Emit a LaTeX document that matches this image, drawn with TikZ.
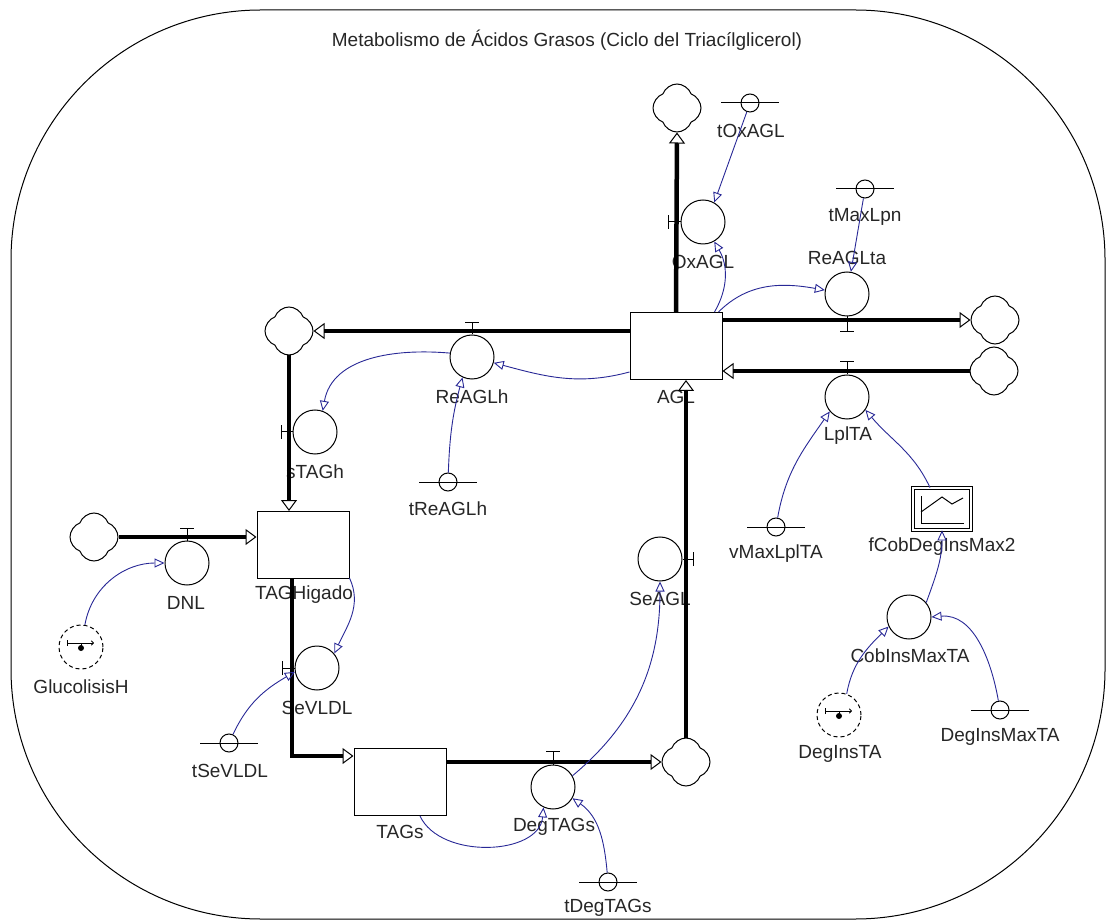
\documentclass[tikz,border=0pt]{standalone}
\usepackage{fontspec}
\setmainfont{Liberation Sans}
\usetikzlibrary{arrows.meta,shapes.symbols}
\definecolor{infoblue}{RGB}{40,40,150}
\tikzset{
  stock/.style={draw, rectangle, line width=1pt, minimum width=92pt, minimum height=67pt, inner sep=0pt},
  valve/.style={draw, circle, line width=1pt, minimum size=44pt, inner sep=0pt},
  cloudy/.style={draw, cloud, cloud puffs=4, cloud puff arc=140, shape border rotate=45, aspect=1, line width=1pt, minimum width=48pt, minimum height=48pt, inner sep=0pt},
  cnst/.style={draw, circle, line width=1pt, minimum size=18pt, inner sep=0pt},
  inputvar/.style={draw, circle, line width=1pt, dash pattern=on 4pt off 3pt, minimum size=44pt, inner sep=0pt},
  lookupbox/.style={draw, rectangle, double, double distance=1.6pt, line width=0.8pt, minimum width=58pt, minimum height=42pt, inner sep=0pt},
  lbl/.style={font=\fontsize{19}{22}\selectfont, text=black!85, inner sep=0pt},
  pipe/.style={line width=4.5pt, -{Triangle[open, length=11pt, width=16pt, line width=1pt]}},
  info/.style={draw=infoblue, line width=0.9pt, -{Triangle[open, length=10pt, width=9pt, line width=0.9pt]}}
}
\newcommand{\insym}[1]{%
  \draw[line width=1pt, -{To[length=3pt, width=5pt]}] ([shift={(-14,4)}]#1.center) -- ([shift={(13,4)}]#1.center);
  \draw[line width=1pt] ([shift={(-14,1)}]#1.center) -- ([shift={(-14,7)}]#1.center);
  \draw[line width=1pt] ([shift={(0,4)}]#1.center) -- ([shift={(0,-1)}]#1.center);
  \fill ([shift={(0,-1)}]#1.center) circle (3);}

\begin{document}
\begin{tikzpicture}[x=1pt, y=1pt]
\useasboundingbox (0,0) rectangle (1110,922);
\draw[line width=1pt, rounded corners=250pt] (11,3) rectangle (1105,912);
\node[lbl] (title) at (567,882) {Metabolismo de Ácidos Grasos (Ciclo del Triacílglicerol)};

% stocks
\node[stock] (AGL) at (676,576) {};
\node[stock] (TAGHigado) at (303,377) {};
\node[stock] (TAGs) at (400,140) {};
\node[lbl] (lAGL) at (676,525) {AGL};
\node[lbl] (lTAGHigado) at (304,327) {TAGHigado};
\node[lbl] (lTAGs) at (400,90) {TAGs};

% clouds
\node[cloudy] (cOx) at (677,814) {};
\node[cloudy] (cReh) at (289,591) {};
\node[cloudy] (cRta) at (995,602) {};
\node[cloudy] (cLpl) at (994,551) {};
\node[cloudy] (cDNL) at (94,385) {};
\node[cloudy] (cDeg) at (686,160) {};

% valves
\node[valve] (OxAGL) at (703,700) {};
\node[valve] (ReAGLta) at (847,628) {};
\node[valve] (LplTA) at (847,525) {};
\node[valve] (ReAGLh) at (472,565) {};
\node[valve] (sTAGh) at (315,490) {};
\node[valve] (DNL) at (187,359) {};
\node[valve] (SeVLDL) at (317,254) {};
\node[valve] (DegTAGs) at (553,135) {};
\node[valve] (SeAGL) at (660,363) {};
\node[lbl] (lOxAGL) at (703,660) {OxAGL};
\node[lbl] (lReAGLta) at (847,664) {ReAGLta};
\node[lbl] (lLplTA) at (848,486) {LplTA};
\node[lbl] (lReAGLh) at (472,525) {ReAGLh};
\node[lbl] (lsTAGh) at (315,450) {sTAGh};
\node[lbl] (lDNL) at (186,319) {DNL};
\node[lbl] (lSeVLDL) at (317,214) {SeVLDL};
\node[lbl] (lDegTAGs) at (554,95) {DegTAGs};
\node[lbl] (lSeAGL) at (660,323) {SeAGL};

% constants
\node[cnst] (tOxAGL) at (750,819) {};
\node[cnst] (tMaxLpn) at (865,733) {};
\node[cnst] (tReAGLh) at (448,440) {};
\node[cnst] (vMaxLplTA) at (776,395) {};
\node[cnst] (DegInsMaxTA) at (1000,212) {};
\node[cnst] (tSeVLDL) at (229,179) {};
\node[cnst] (tDegTAGs) at (608,40) {};
\draw[line width=1pt] ([xshift=-29pt]tOxAGL.center) -- ([xshift=29pt]tOxAGL.center);
\draw[line width=1pt] ([xshift=-29pt]tMaxLpn.center) -- ([xshift=29pt]tMaxLpn.center);
\draw[line width=1pt] ([xshift=-29pt]tReAGLh.center) -- ([xshift=29pt]tReAGLh.center);
\draw[line width=1pt] ([xshift=-29pt]vMaxLplTA.center) -- ([xshift=29pt]vMaxLplTA.center);
\draw[line width=1pt] ([xshift=-29pt]DegInsMaxTA.center) -- ([xshift=29pt]DegInsMaxTA.center);
\draw[line width=1pt] ([xshift=-29pt]tSeVLDL.center) -- ([xshift=29pt]tSeVLDL.center);
\draw[line width=1pt] ([xshift=-29pt]tDegTAGs.center) -- ([xshift=29pt]tDegTAGs.center);
\node[lbl] (ltOxAGL) at (751,791) {tOxAGL};
\node[lbl] (ltMaxLpn) at (865,705) {tMaxLpn};
\node[lbl] (ltReAGLh) at (448,413) {tReAGLh};
\node[lbl] (lvMaxLplTA) at (776,368) {vMaxLplTA};
\node[lbl] (lDegInsMaxTA) at (1000,185) {DegInsMaxTA};
\node[lbl] (ltSeVLDL) at (230,151) {tSeVLDL};
\node[lbl] (ltDegTAGs) at (608,14) {tDegTAGs};

% inputs, lookup, auxiliary
\node[inputvar] (GlucolisisH) at (81,275) {};
\node[inputvar] (DegInsTA) at (839,207) {};
\insym{GlucolisisH}
\insym{DegInsTA}
\node[lbl] (lGlucolisisH) at (81,235) {GlucolisisH};
\node[lbl] (lDegInsTA) at (840,168) {DegInsTA};
\node[lookupbox] (fCob) at (942,413) {};
\draw[line width=1pt] ([shift={(-21,13)}]fCob.center) -- ([shift={(-21,-14)}]fCob.center) -- ([shift={(22,-14)}]fCob.center);
\draw[line width=1pt] ([shift={(-21,-3)}]fCob.center) -- ([shift={(0,12)}]fCob.center) -- ([shift={(10,5)}]fCob.center) -- ([shift={(21,11)}]fCob.center);
\node[lbl] (lfCob) at (942,375) {fCobDegInsMax2};
\node[valve] (CobInsMaxTA) at (909,305) {};
\node[lbl] (lCobInsMaxTA) at (910,266) {CobInsMaxTA};

% pipes
\draw[pipe] (AGL.north) -- (cOx.south);
\draw[pipe] (AGL.east |- cRta) -- (cRta.west);
\draw[pipe] (cLpl.west) -- (AGL.east |- cLpl.west);
\draw[pipe] (AGL.west |- cReh) -- (cReh.east);
\draw[pipe] (cReh.south) -- (TAGHigado.north -| cReh);
\draw[pipe] (cDNL.east) -- (TAGHigado.west |- cDNL);
\draw[pipe] ([xshift=-11pt]TAGHigado.south) |- ([yshift=26pt]TAGs.west);
\draw[pipe] (TAGs.east |- cDeg.west) -- (cDeg.west);
\draw[pipe] (cDeg.north) -- (AGL.south -| cDeg);

% valve ticks
\draw[line width=1pt] (OxAGL.west) -- ++(-12,0) ++(0,-7) -- ++(0,14);
\draw[line width=1pt] (ReAGLta.south) -- ++(0,-15) ++(-7,0) -- ++(14,0);
\draw[line width=1pt] (LplTA.north) -- ++(0,13) ++(-7,0) -- ++(14,0);
\draw[line width=1pt] (ReAGLh.north) -- ++(0,12) ++(-7,0) -- ++(14,0);
\draw[line width=1pt] (sTAGh.west) -- ++(-11,0) ++(0,-7) -- ++(0,14);
\draw[line width=1pt] (DNL.north) -- ++(0,12) ++(-7,0) -- ++(14,0);
\draw[line width=1pt] (SeVLDL.west) -- ++(-12,0) ++(0,-7) -- ++(0,14);
\draw[line width=1pt] (DegTAGs.north) -- ++(0,13) ++(-7,0) -- ++(14,0);
\draw[line width=1pt] (SeAGL.east) -- ++(11,0) ++(0,-7) -- ++(0,14);

% information links
\draw[info] (tOxAGL) -- (OxAGL.60);
\draw[info] ([xshift=-8pt]AGL.north east) to[out=60,in=-60] (OxAGL.-60);
\draw[info] ([xshift=-4pt]AGL.north east) to[out=45,in=170] (ReAGLta.170);
\draw[info] (tMaxLpn) -- (ReAGLta.80);
\draw[info] ([yshift=-26pt]AGL.west) to[out=195,in=-15] (ReAGLh.-15);
\draw[info] (ReAGLh.170) to[out=175,in=80] (sTAGh.70);
\draw[info] (tReAGLh) to[out=88,in=-105] (ReAGLh.-115);
\draw[info] ([yshift=1pt]TAGHigado.south east) to[out=-65,in=65] (SeVLDL.40);
\draw[info] (tSeVLDL) to[out=65,in=-150] (SeVLDL.190);
\draw[info] (GlucolisisH.80) to[out=80,in=180] (DNL.west);
\draw[info] ([xshift=20pt]TAGs.south) to[out=-65,in=-95] (DegTAGs.-115);
\draw[info] (DegTAGs.30) to[out=40,in=-90] (SeAGL.south);
\draw[info] (tDegTAGs) to[out=95,in=-35] (DegTAGs.-30);
\draw[info] (vMaxLplTA) to[out=80,in=-125] (LplTA.-140);
\draw[info] ([xshift=-12pt]fCob.north) to[out=115,in=-50] (LplTA.-35);
\draw[info] (CobInsMaxTA.40) to[out=70,in=-90] (fCob.south);
\draw[info] (DegInsTA.70) to[out=80,in=-135] (CobInsMaxTA.-155);
\draw[info] (DegInsMaxTA) to[out=100,in=5] (CobInsMaxTA.east);
\end{tikzpicture}
\end{document}
